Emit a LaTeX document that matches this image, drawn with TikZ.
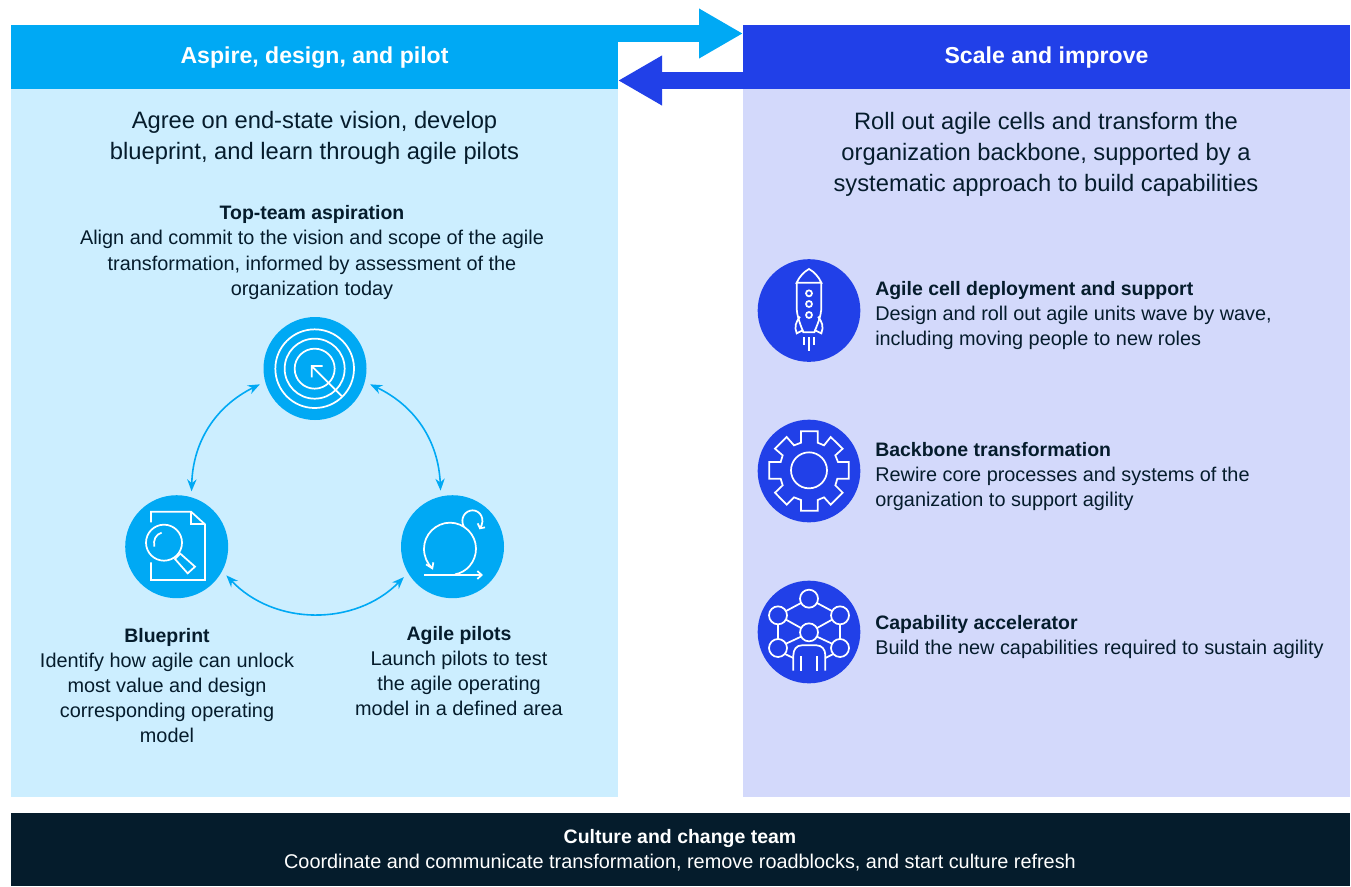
\documentclass[tikz,border=0pt]{standalone}
\usepackage{fontspec}
\setmainfont{Liberation Sans}
\usetikzlibrary{arrows.meta}
\definecolor{cy}{HTML}{00A9F4}
\definecolor{cyl}{HTML}{CCEEFF}
\definecolor{bl}{HTML}{2140E8}
\definecolor{bll}{HTML}{D3D9FB}
\definecolor{navy}{HTML}{051C2C}
\definecolor{ink}{HTML}{051C2C}
\newcommand{\hb}[1]{{\fontsize{14.6}{18.85}\selectfont\bfseries #1}}
\newcommand{\hdtxt}[1]{\raisebox{-5.2pt}[0pt][0pt]{#1}}
\tikzset{
  x=0.75pt,y=-0.75pt,
  band/.style={rectangle,inner sep=0pt,outer sep=0pt,minimum width=455.25pt,text=white},
  head/.style={band,minimum height=48pt,font=\fontsize{17.3}{20}\selectfont\bfseries},
  panel/.style={band,minimum height=531pt},
  sub/.style={align=center,inner sep=0pt,text=ink,font=\fontsize{17.8}{23.25}\selectfont},
  txt/.style={inner sep=0pt,text=ink,font=\fontsize{14.9}{18.85}\selectfont},
  ctr/.style={txt,align=center},
  lft/.style={txt,align=left,anchor=west},
  disc/.style={circle,inner sep=0pt,outer sep=4.5pt,minimum size=77pt},
  discb/.style={circle,inner sep=0pt,minimum size=77pt,fill=bl},
  big/.style={line width=12.75pt},
  bi/.style={cy,line width=1.2pt,{Stealth[length=9pt,width=7pt]}-{Stealth[length=9pt,width=7pt]}},
  ico/.style={white,line width=1.3pt},
}
\begin{document}
\begin{tikzpicture}
\useasboundingbox (0,0) rectangle (1351,886);
\fill[white] (0,0) rectangle (1351,886);
% panels
\node[panel,fill=cyl,anchor=north west] (pl) at (11,89) {};
\node[panel,fill=bll,anchor=north west] (pr) at (743,89) {};
\node[head,fill=cy,anchor=north west] (hl) at (11,25) {\hdtxt{Aspire, design, and pilot}};
\node[head,fill=bl,anchor=north west] (hr) at (743,25) {\hdtxt{Scale and improve}};
\node[rectangle,inner sep=0pt,fill=navy,minimum width=1004.25pt,minimum height=54.75pt,anchor=north west] (foot) at (11,813) {};
% big arrows
\coordinate (as) at (618,33.5);
\coordinate (ae) at (743,33.5);
\coordinate (bs) at (743,80.5);
\coordinate (be) at (618,80.5);
\draw[big,cy,-{Triangle[length=33pt,width=35pt]}] (as) -- (ae);
\draw[big,bl,-{Triangle[length=33pt,width=35pt]}] (bs) -- (be);
% texts
\node[sub] (s1) at (314.5,138) {Agree on end-state vision, develop\\blueprint, and learn through agile pilots};
\node[sub] (s2) at (1046,154) {Roll out agile cells and transform the\\organization backbone, supported by a\\systematic approach to build capabilities};
\node[ctr] (t1) at (312,252.5) {\hb{Top-team aspiration}\\Align and commit to the vision and scope of the agile\\transformation, informed by assessment of the\\organization today};
\node[ctr] (t2) at (167,685.5) {\hb{Blueprint}\\Identify how agile can unlock\\most value and design\\corresponding operating\\model};
\node[ctr] (t3) at (459,671) {\hb{Agile pilots}\\Launch pilots to test\\the agile operating\\model in a defined area};
\node[lft] (r1) at (875,315.5) {\hb{Agile cell deployment and support}\\Design and roll out agile units wave by wave,\\including moving people to new roles};
\node[lft] (r2) at (875,476.8) {\hb{Backbone transformation}\\Rewire core processes and systems of the\\organization to support agility};
\node[lft] (r3) at (875,637) {\hb{Capability accelerator}\\Build the new capabilities required to sustain agility};
\node[txt,align=center,text=white] (f1) at (680,850) {\hb{Culture and change team}\\Coordinate and communicate transformation, remove roadblocks, and start culture refresh};
% discs
\node[disc] (dt) at (315,368.5) {};
\node[disc] (dl) at (176.7,546.7) {};
\node[disc] (dr) at (452.5,546.7) {};
\fill[cy] (dt) circle (51.5) (dl) circle (51.5) (dr) circle (51.5);
\node[discb] (d1) at (809,310.5) {};
\node[discb] (d2) at (809,471) {};
\node[discb] (d3) at (809,632) {};
% cycle connectors
\draw[bi] (dt.196) to[bend right=31] (dl.75);
\draw[bi] (dt.-16) to[bend left=31] (dr.102);
\draw[bi] (dl.-30) to[bend right=46] (dr.212);
% target icon
\begin{scope}[shift={(250,310)},x=0.25pt,y=-0.25pt,ico]
\draw (194,176) circle (118) (194,176) circle (90) (194,176) circle (60);
\draw (275,258) -- (185,168) (218,168) -- (185,168) -- (185,202);
\end{scope}
% blueprint icon
\begin{scope}[shift={(115,485)},x=0.25pt,y=-0.25pt,ico]
\draw (108,112) -- (108,80) -- (228,80) -- (270,118) -- (270,285) -- (108,285) -- (108,232);
\draw (228,80) -- (228,118) -- (270,118);
\draw (147,173) circle (54);
\draw (118,185) .. controls (114,165) and (122,148) .. (140,143);
\draw (180,222) -- (196,206) -- (240,245) -- (218,265) -- cycle;
\end{scope}
% agile icon
\begin{scope}[shift={(390,485)},x=0.25pt,y=-0.25pt,ico]
\draw (195,268) .. controls (230,262) and (258,230) .. (258,191) .. controls (258,148) and (222,113) .. (180,113) .. controls (138,113) and (102,148) .. (102,191) .. controls (102,215) and (112,236) .. (127,250);
\draw (108,238) -- (127,250) -- (130,232);
\draw (222,126) .. controls (208,100) and (226,76) .. (248,76) .. controls (270,76) and (288,102) .. (270,130);
\draw (263,115) -- (270,130) -- (285,127);
\draw (102,270) -- (275,270) (262,258) -- (275,270) -- (262,282);
\end{scope}
% rocket icon
\begin{scope}[shift={(750,250)},x=0.25pt,y=-0.25pt,ico]
\draw (140,98) .. controls (148,80) and (162,65) .. (177,57) .. controls (192,65) and (206,80) .. (214,98) -- cycle;
\draw (140,98) -- (140,170) .. controls (140,200) and (152,225) .. (160,247) -- (193,247) .. controls (201,225) and (214,200) .. (214,170) -- (214,98);
\draw (150,200) .. controls (138,215) and (132,230) .. (140,250) -- (160,240);
\draw (204,200) .. controls (216,215) and (222,230) .. (214,250) -- (193,240);
\draw (177,130) circle (9) (177,162) circle (9) (177,195) circle (9);
\draw (162,262) -- (162,285) (177,262) -- (177,303) (191,262) -- (191,285);
\end{scope}
% gear icon
\begin{scope}[shift={(750,412)},x=0.25pt,y=-0.25pt,ico]
\draw (177,175) circle (54);
\draw (153,58)--(203,58)--(203,92)--(222,100)--(242,75)--(278,110)--(256,130)--(264,150)--(296,150)--(296,200)--(262,200)--(256,220)--(278,242)--(242,278)--(222,256)--(203,264)--(203,296)--(153,296)--(153,264)--(132,256)--(110,278)--(75,242)--(98,220)--(92,200)--(58,200)--(58,150)--(92,150)--(98,130)--(75,110)--(110,75)--(132,100)--(153,92)--cycle;
\end{scope}
% network icon
\begin{scope}[shift={(750,572)},x=0.25pt,y=-0.25pt,ico]
\draw (177,80) circle (27) (84,130) circle (27) (270,130) circle (27) (177,181) circle (27) (84,228) circle (27) (270,228) circle (27);
\draw (153,93)--(108,117) (201,93)--(246,117) (108,143)--(153,168) (246,143)--(201,168);
\draw (84,157)--(84,201) (270,157)--(270,201) (108,215)--(153,194) (246,215)--(201,194);
\draw (130,296) -- (130,250) .. controls (130,232) and (140,220) .. (155,220) -- (200,220) .. controls (215,220) and (226,232) .. (226,250) -- (226,296);
\draw (152,253)--(152,296) (202,253)--(202,296);
\draw (105,246)--(130,258) (226,258)--(250,246);
\end{scope}
\end{tikzpicture}
\end{document}
